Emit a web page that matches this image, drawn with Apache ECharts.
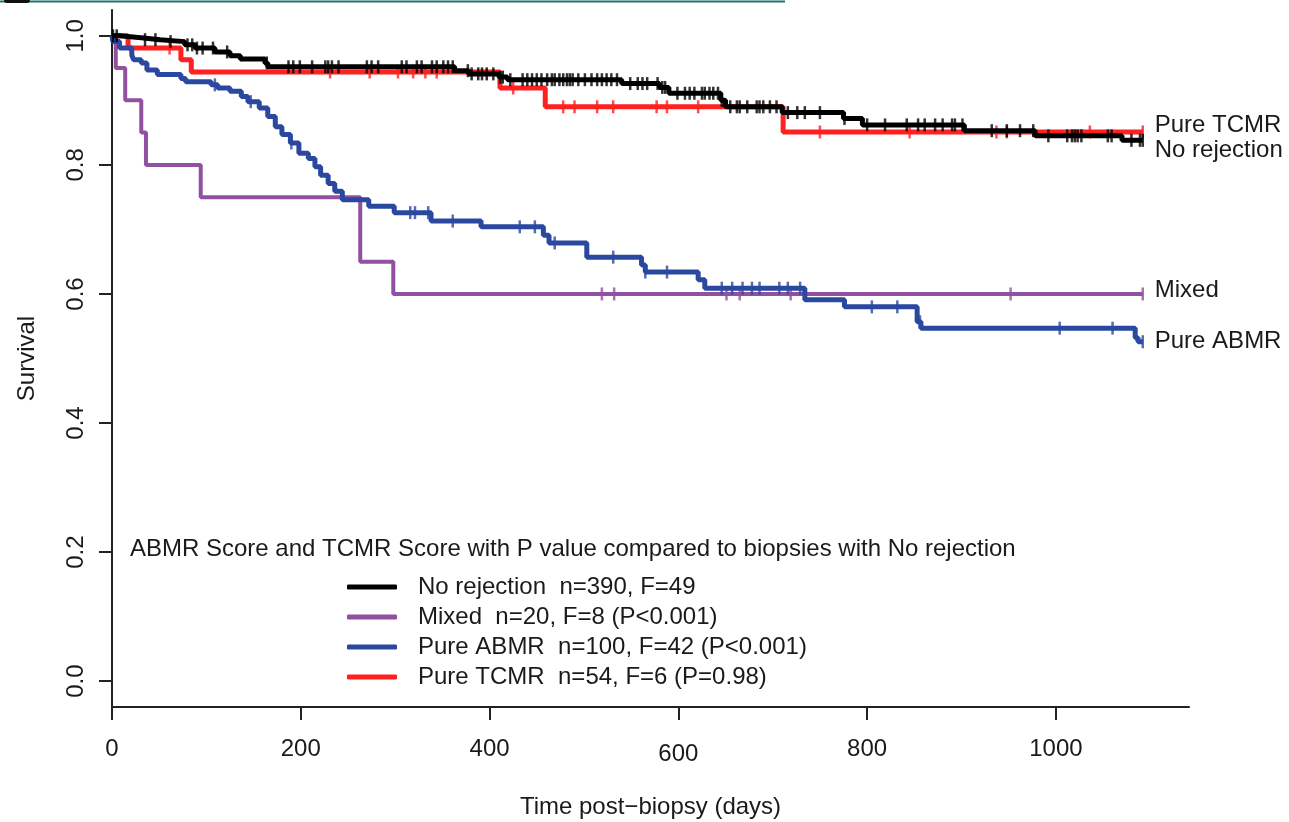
<!DOCTYPE html>
<html>
<head>
<meta charset="utf-8">
<script src="https://cdn.jsdelivr.net/npm/echarts@6/dist/echarts.min.js"></script>
<style>
  html, body { margin: 0; padding: 0; background: #fff; }
  #main { width: 1289px; height: 822px; }
</style>
</head>
<body>
<div id="main"></div>
<script>
// survival steps: [day, survival after the drop]
const noRejSteps = [[8, 0.997], [31, 0.994], [51, 0.991], [77, 0.986], [88, 0.981], [109, 0.975], [125, 0.969], [136, 0.964], [162, 0.958], [165, 0.952], [363, 0.946], [378, 0.941], [410, 0.936], [419, 0.932], [540, 0.926], [580, 0.920], [590, 0.911], [645, 0.900], [650, 0.890], [710, 0.881], [775, 0.872], [795, 0.862], [903, 0.853], [978, 0.845], [1070, 0.838]];
const mixedSteps = [[4, 0.95], [14, 0.90], [31, 0.85], [36, 0.80], [94, 0.75], [263, 0.65], [298, 0.60]];
const abmrSteps = [[1, 0.991], [8, 0.981], [21, 0.970], [23, 0.963], [31, 0.958], [37, 0.947], [48, 0.940], [73, 0.934], [78, 0.929], [105, 0.924], [112, 0.919], [125, 0.914], [137, 0.906], [144, 0.898], [156, 0.888], [165, 0.875], [173, 0.859], [180, 0.847], [189, 0.834], [198, 0.818], [208, 0.810], [215, 0.797], [221, 0.784], [229, 0.771], [236, 0.759], [244, 0.746], [272, 0.736], [299, 0.726], [338, 0.713], [391, 0.704], [457, 0.691], [463, 0.679], [503, 0.657], [561, 0.645], [565, 0.634], [621, 0.622], [628, 0.609], [734, 0.591], [776, 0.580], [853, 0.557], [857, 0.547], [1084, 0.532], [1087, 0.526]];
const tcmrSteps = [[17, 0.981], [73, 0.963], [84, 0.944], [411, 0.919], [459, 0.890], [711, 0.851]];
const lastDay = 1092;

// censored times (days)
const noRejCens = [1, 5, 35, 46, 62, 80, 85, 90, 96, 107, 122, 164, 187, 192, 199, 212, 226, 229, 233, 240, 270, 275, 282, 307, 312, 323, 328, 339, 344, 351, 356, 361, 377, 381, 388, 392, 397, 404, 411, 414, 422, 435, 440, 445, 450, 455, 461, 466, 469, 474, 478, 482, 485, 488, 494, 501, 508, 514, 519, 524, 529, 535, 549, 557, 562, 567, 578, 583, 586, 599, 607, 612, 617, 625, 628, 633, 637, 642, 646, 655, 662, 665, 673, 683, 686, 690, 697, 704, 716, 726, 734, 750, 776, 800, 819, 842, 854, 861, 872, 880, 890, 893, 901, 932, 948, 962, 976, 992, 1012, 1017, 1020, 1023, 1027, 1055, 1059, 1080, 1089, 1092];
const mixedCens = [519, 532, 651, 665, 719, 952, 1092];
const abmrCens = [109, 147, 190, 316, 321, 335, 361, 432, 448, 469, 531, 565, 588, 646, 657, 668, 678, 686, 707, 716, 729, 805, 832, 856, 1004, 1060, 1092];
const tcmrCens = [61, 231, 273, 303, 319, 332, 344, 425, 478, 490, 514, 531, 577, 588, 621, 750, 845, 937, 948, 1036, 1092];

const xTicks = [0, 200, 400, 600, 800, 1000];
const yTicks = [0, 0.2, 0.4, 0.6, 0.8, 1.0];

const legendTitle = "ABMR Score and TCMR Score with P value compared to biopsies with No rejection";
const groups = [
  { short: "No rejection", name: "No rejection  n=390, F=49", color: "#000000", steps: noRejSteps, cens: noRejCens, dy: 10, z: 5 },
  { short: "Mixed", name: "Mixed  n=20, F=8 (P<0.001)", color: "#9150A0", steps: mixedSteps, cens: mixedCens, dy: -4, z: 2 },
  { short: "Pure ABMR", name: "Pure ABMR  n=100, F=42 (P<0.001)", color: "#2A48A0", steps: abmrSteps, cens: abmrCens, dy: 0, z: 4 },
  { short: "Pure TCMR", name: "Pure TCMR  n=54, F=6 (P=0.98)", color: "#FF2020", steps: tcmrSteps, cens: tcmrCens, dy: -7, z: 3 }
];

const font = "'Liberation Sans', Arial, sans-serif";
const textColor = "#1a1a1a";

function survAt(steps, t) {
  let s = 1;
  for (const p of steps) {
    if (p[0] <= t) s = p[1];
  }
  return s;
}

const series = [];
groups.forEach(g => {
  const pts = [[0, 1]].concat(g.steps);
  pts.push([lastDay, g.steps[g.steps.length - 1][1]]);
  series.push({
    name: g.name,
    type: "line",
    step: "end",
    data: pts,
    symbol: "none",
    z: g.z * 2,
    color: g.color,
    lineStyle: { color: g.color, width: g.short === "Mixed" ? 4 : 5 },
    endLabel: {
      show: true,
      formatter: g.short,
      distance: 12,
      offset: [0, g.dy],
      color: textColor,
      fontSize: 24,
      fontFamily: font
    }
  });
  series.push({
    name: g.short + " censored",
    type: "scatter",
    data: g.cens.map(t => [t, survAt(g.steps, t)]),
    symbol: "rect",
    symbolSize: [2.5, 13],
    z: g.z * 2 + 1,
    itemStyle: { color: g.color },
    silent: true
  });
});

const option = {
  animation: false,
  backgroundColor: "#ffffff",
  title: {
    text: legendTitle,
    left: 125,
    top: 532,
    textStyle: { fontSize: 24, fontWeight: "normal", color: textColor, fontFamily: font }
  },
  legend: {
    data: groups.map(g => g.name),
    orient: "vertical",
    left: 342,
    top: 570,
    itemWidth: 50,
    itemHeight: 5,
    itemGap: 6,
    icon: "roundRect",
    textStyle: { fontSize: 24, lineHeight: 24, color: textColor, fontFamily: font, padding: [0, 0, 0, 16] },
    selectedMode: false
  },
  grid: { left: 112, right: 100, top: 10, bottom: 115, containLabel: false, outerBoundsMode: "none" },
  xAxis: {
    type: "value",
    min: 0,
    max: 1141,
    name: "Time post\u2212biopsy (days)",
    nameLocation: "middle",
    nameGap: 88,
    nameTextStyle: { fontSize: 24, color: textColor, fontFamily: font },
    axisLine: { show: true, onZero: false, lineStyle: { color: "#222", width: 2 } },
    axisTick: { show: true, length: 13, lineStyle: { color: "#222", width: 2 }, customValues: xTicks },
    axisLabel: {
      fontSize: 24, color: textColor, fontFamily: font, margin: 30, customValues: xTicks,
      formatter: v => (v === 600 ? "{low|600}" : String(v)),
      rich: { low: { fontSize: 24, fontFamily: font, color: textColor, padding: [5, 0, 0, 0] } }
    },
    splitLine: { show: false }
  },
  yAxis: {
    type: "value",
    min: -0.04,
    max: 1.04,
    name: "Survival",
    nameLocation: "middle",
    nameGap: 73,
    nameRotate: 90,
    nameTextStyle: { fontSize: 24, color: textColor, fontFamily: font },
    axisLine: { show: true, onZero: false, lineStyle: { color: "#222", width: 2 } },
    axisTick: { show: true, length: 13, lineStyle: { color: "#222", width: 2 }, customValues: yTicks },
    axisLabel: { fontSize: 24, color: textColor, fontFamily: font, rotate: 90, margin: 24, customValues: yTicks, formatter: v => v.toFixed(1) },
    splitLine: { show: false }
  },
  graphic: [
    { type: "line", shape: { x1: 0, y1: 1.5, x2: 785, y2: 1.5 }, style: { stroke: "#1b7373", lineWidth: 2 } },
    { type: "rect", shape: { x: 4, y: -3, width: 26, height: 6, r: 3 }, style: { fill: "#111" } }
  ],
  series: series
};

const chart = echarts.init(document.getElementById("main"));
chart.setOption(option);
</script>
</body>
</html>
